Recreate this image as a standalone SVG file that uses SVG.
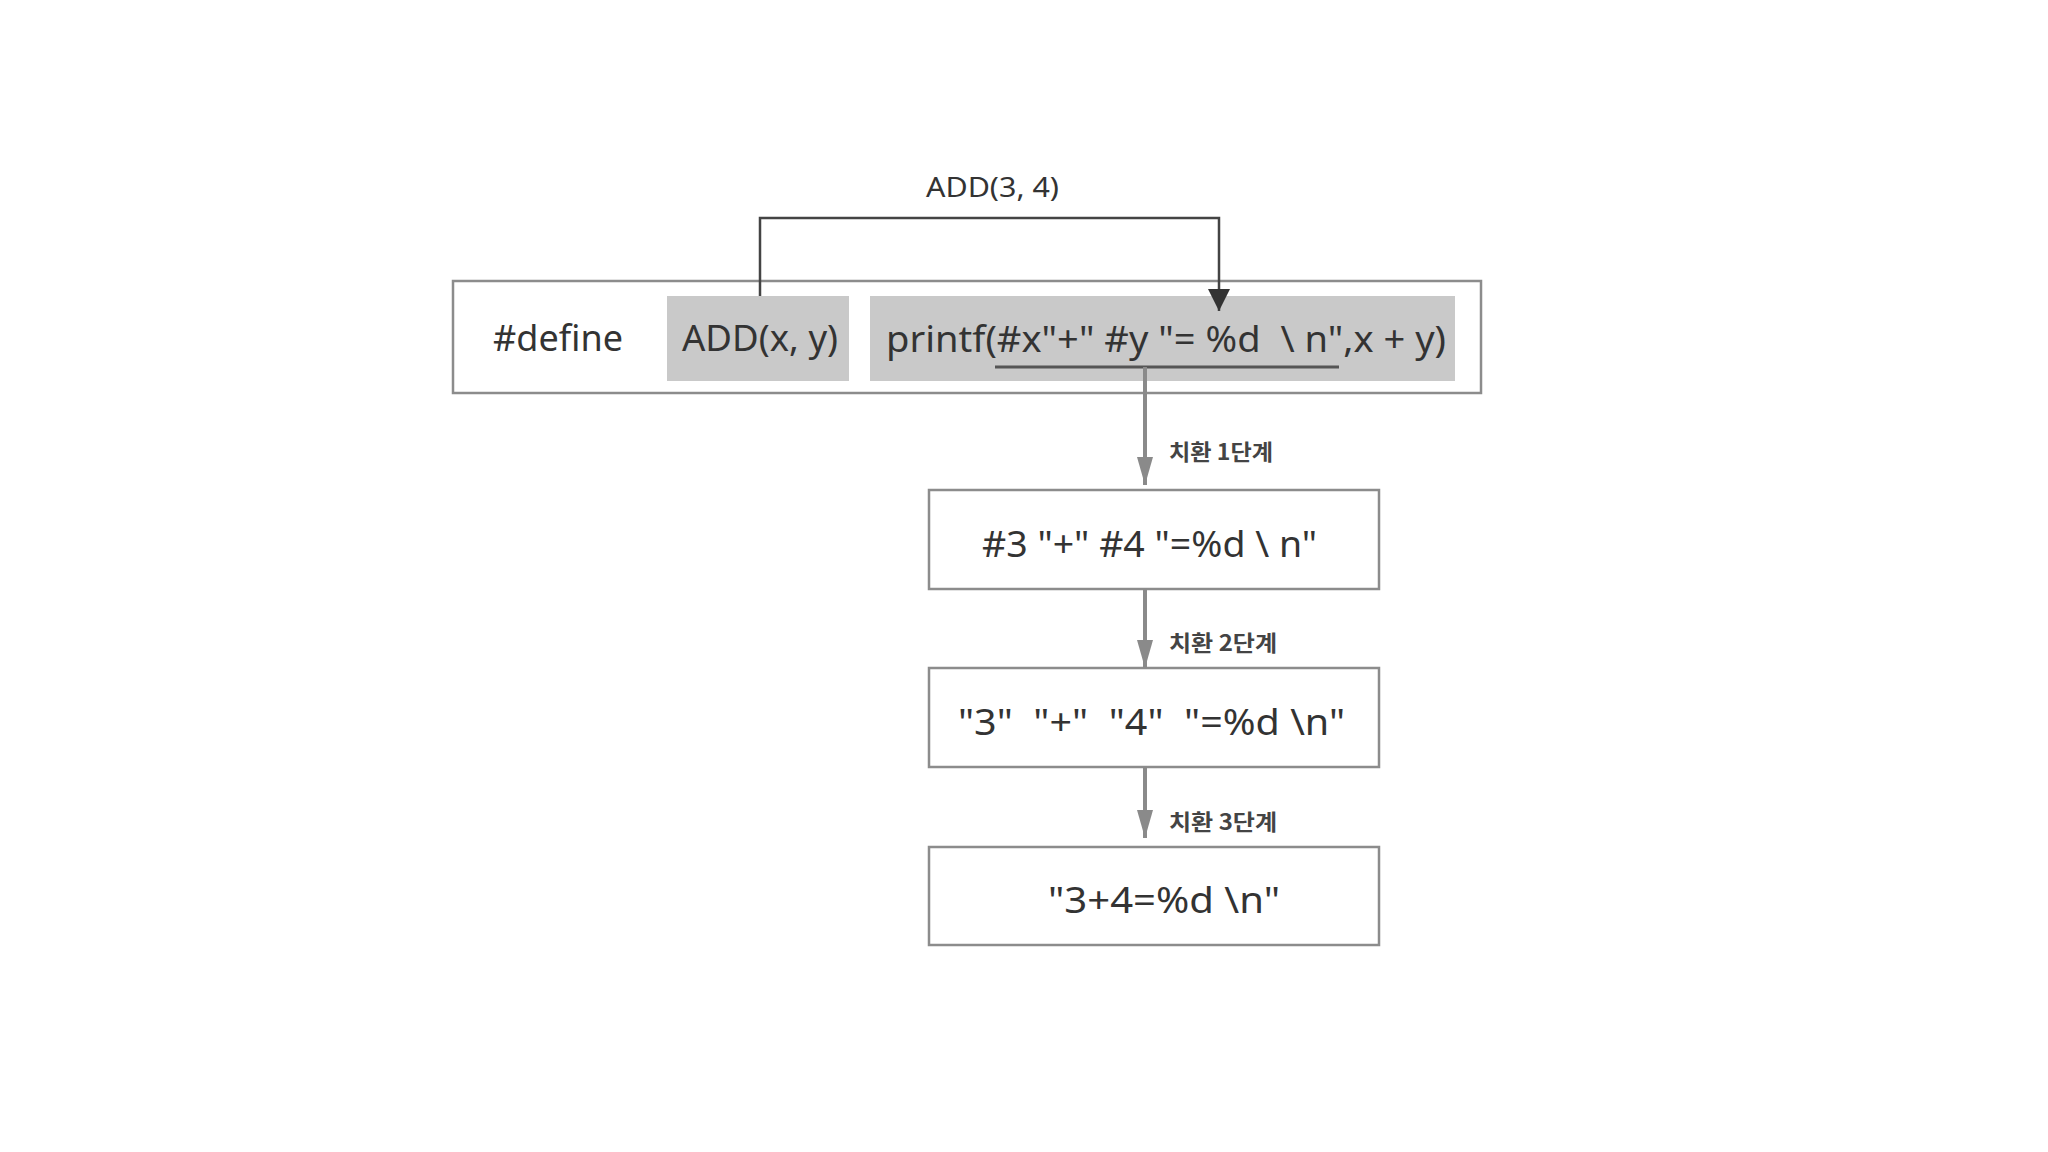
<svg xmlns="http://www.w3.org/2000/svg" width="2048" height="1152" viewBox="0 0 2048 1152">
  <style>
    .box { fill: #ffffff; stroke: #8c8c8c; stroke-width: 2.5; }
    .hl { fill: #c9c9c9; stroke: none; }
    .code { font-family: "Noto Sans", "Open Sans", sans-serif; font-size: 36px; fill: #333333; }
    .small { font-family: "Noto Sans", "Open Sans", sans-serif; font-size: 28px; fill: #333333; }
    .lbl { font-family: "Noto Sans CJK KR", sans-serif; font-size: 22px; font-weight: 700; fill: #444444; }
    .gconn { fill: none; stroke: #8a8a8a; stroke-width: 4; }
    .dconn { fill: none; stroke: #444444; stroke-width: 2.5; }
  </style>
  <defs>
    <marker id="garrow" markerUnits="userSpaceOnUse" viewBox="0 0 28 16" markerWidth="28" markerHeight="16" refX="28" refY="8" orient="auto">
      <path d="M0,0 L28,8 L0,16 z" fill="#8a8a8a"/>
    </marker>
    <marker id="darrow" markerUnits="userSpaceOnUse" viewBox="0 0 22 22" markerWidth="22" markerHeight="22" refX="22" refY="11" orient="auto">
      <path d="M0,0 L22,11 L0,22 z" fill="#333333"/>
    </marker>
  </defs>
  <rect width="2048" height="1152" fill="#ffffff"/>

  <g id="define-box">
    <rect class="box" x="453" y="281" width="1028" height="112"/>
    <text class="code" x="493" y="351" textLength="130" lengthAdjust="spacingAndGlyphs">#define</text>
  </g>
  <g id="macro-name">
    <rect class="hl" x="667" y="296" width="182" height="85"/>
    <text class="code" x="682" y="351" textLength="156" lengthAdjust="spacingAndGlyphs">ADD(x, y)</text>
  </g>
  <g id="macro-body">
    <rect class="hl" x="870" y="296" width="585" height="85"/>
    <text class="code" x="886" y="352" textLength="560" lengthAdjust="spacingAndGlyphs" xml:space="preserve">printf(#x"+" #y "= %d  \ n",x + y)</text>
  </g>
  <g id="step1">
    <rect class="box" x="929" y="490" width="450" height="99"/>
    <text class="code" x="982" y="557" textLength="335" lengthAdjust="spacingAndGlyphs">#3 "+" #4 "=%d \ n"</text>
  </g>
  <g id="step2">
    <rect class="box" x="929" y="668" width="450" height="99"/>
    <text class="code" x="958" y="735" textLength="387" lengthAdjust="spacingAndGlyphs" xml:space="preserve">"3"  "+"  "4"  "=%d \n"</text>
  </g>
  <g id="step3">
    <rect class="box" x="929" y="847" width="450" height="98"/>
    <text class="code" x="1048" y="913" textLength="232" lengthAdjust="spacingAndGlyphs">"3+4=%d \n"</text>
  </g>

  <g id="connectors">
    <path class="dconn" d="M760,296 V218 H1219 V311" marker-end="url(#darrow)"/>
    <text class="small" x="926" y="197" textLength="133" lengthAdjust="spacingAndGlyphs">ADD(3, 4)</text>
    <line x1="995" y1="367" x2="1339" y2="367" stroke="#555555" stroke-width="3"/>
    <path class="gconn" d="M1145,367 V485" marker-end="url(#garrow)"/>
    <text class="lbl" x="1169" y="460" textLength="104" lengthAdjust="spacingAndGlyphs">치환 1단계</text>
    <path class="gconn" d="M1145,589 V668" marker-end="url(#garrow)"/>
    <text class="lbl" x="1169" y="651" textLength="108" lengthAdjust="spacingAndGlyphs">치환 2단계</text>
    <path class="gconn" d="M1145,767 V838" marker-end="url(#garrow)"/>
    <text class="lbl" x="1169" y="830" textLength="108" lengthAdjust="spacingAndGlyphs">치환 3단계</text>
  </g>
</svg>
